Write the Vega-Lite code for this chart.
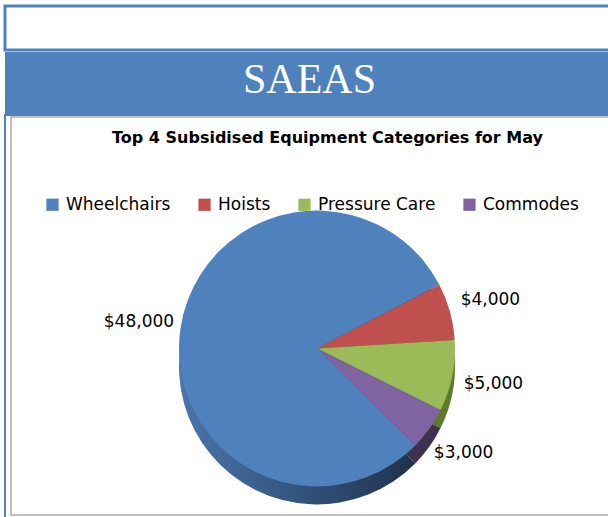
{
  "$schema": "https://vega.github.io/schema/vega-lite/v6.json",
  "padding": {"left": 3, "top": 4, "right": 0, "bottom": 0},
  "background": "white",
  "spacing": 0,
  "datasets": {
    "slices": [
      {"category": "Wheelchairs", "amount": 48000, "rank": 1},
      {"category": "Hoists", "amount": 4000, "rank": 2},
      {"category": "Pressure Care", "amount": 5000, "rank": 3},
      {"category": "Commodes", "amount": 3000, "rank": 4}
    ],
    "heading": [{"label": "SAEAS"}],
    "blank": [{"label": ""}]
  },
  "vconcat": [
    {
      "width": 605,
      "height": 44,
      "data": {"name": "blank"},
      "view": {"stroke": "#4f81bd", "strokeWidth": 3, "fill": "white"},
      "mark": {"type": "text"},
      "encoding": {"text": {"field": "label"}}
    },
    {
      "width": 605,
      "height": 62,
      "data": {"name": "heading"},
      "view": {"stroke": null, "fill": "#4f81bd"},
      "mark": {"type": "text", "font": "Liberation Serif", "fontSize": 42, "color": "white", "baseline": "middle", "dy": -3, "dx": 2},
      "encoding": {"text": {"field": "label"}}
    },
    {
      "width": 605,
      "height": 403,
      "view": {"stroke": "#4f81bd", "strokeWidth": 2, "fill": "white"},
      "title": {
        "text": "Top 4 Subsidised Equipment Categories for May",
        "font": "DejaVu Sans",
        "fontSize": 16,
        "fontWeight": "bold",
        "color": "black",
        "anchor": "middle",
        "offset": -31,
        "dx": 20
      },
      "data": {"name": "slices"},
      "layer": [
        {
          "data": {"values": [{"frame": 1}]},
          "mark": {"type": "rect", "fill": "transparent", "stroke": "#c0c0c0", "strokeWidth": 2, "xOffset": 6, "yOffset": 2, "x2Offset": 10, "y2Offset": -3, "clip": true},
          "encoding": {
            "x": {"value": 0},
            "x2": {"value": "width"},
            "y": {"value": 0},
            "y2": {"value": "height"}
          }
        },
        {
          "mark": {"type": "arc", "radius": 138, "xOffset": 9.5, "yOffset": 50},
          "encoding": {
            "theta": {"field": "amount", "type": "quantitative", "stack": true, "scale": {"range": [2.347, 8.630]}},
            "order": {"field": "rank", "type": "quantitative"},
            "color": {
              "condition": [
                {"test": "datum.category === 'Commodes'", "value": "#3f3151"},
                {"test": "datum.category === 'Pressure Care'", "value": "#5e7a2d"},
                {"test": "datum.category === 'Hoists'", "value": "#7a2e2c"}
              ],
              "value": {
                "gradient": "linear",
                "x1": 0, "y1": 0, "x2": 1, "y2": 0,
                "stops": [
                  {"offset": 0, "color": "#4a76aa"},
                  {"offset": 0.5, "color": "#31517a"},
                  {"offset": 1, "color": "#1c2a42"}
                ]
              }
            }
          }
        },
        {
          "mark": {"type": "arc", "radius": 138, "xOffset": 9.5, "yOffset": 32},
          "encoding": {
            "theta": {"field": "amount", "type": "quantitative", "stack": true, "scale": {"range": [2.347, 8.630]}},
            "order": {"field": "rank", "type": "quantitative"},
            "color": {
              "field": "category",
              "type": "nominal",
              "sort": ["Wheelchairs", "Hoists", "Pressure Care", "Commodes"],
              "scale": {
                "domain": ["Wheelchairs", "Hoists", "Pressure Care", "Commodes"],
                "range": ["#4f81bd", "#c0504d", "#9bbb59", "#8064a2"]
              },
              "legend": {
                "orient": "none",
                "legendX": 39,
                "legendY": 190,
                "direction": "horizontal",
                "title": null,
                "labelFont": "DejaVu Sans",
                "labelFontSize": 17,
                "labelColor": "black",
                "symbolType": "square",
                "symbolSize": 150,
                "symbolStrokeWidth": 0,
                "labelOffset": 5,
                "columnPadding": 25,
                "labelLimit": 300
              }
            }
          }
        },
        {
          "mark": {"type": "text", "radius": 180, "font": "DejaVu Sans", "fontSize": 17, "color": "black", "xOffset": 9.5, "yOffset": 32},
          "encoding": {
            "theta": {"field": "amount", "type": "quantitative", "stack": true, "scale": {"range": [2.347, 8.630]}},
            "order": {"field": "rank", "type": "quantitative"},
            "text": {"field": "amount", "type": "quantitative", "format": "$,.0f"}
          }
        }
      ]
    }
  ]
}
